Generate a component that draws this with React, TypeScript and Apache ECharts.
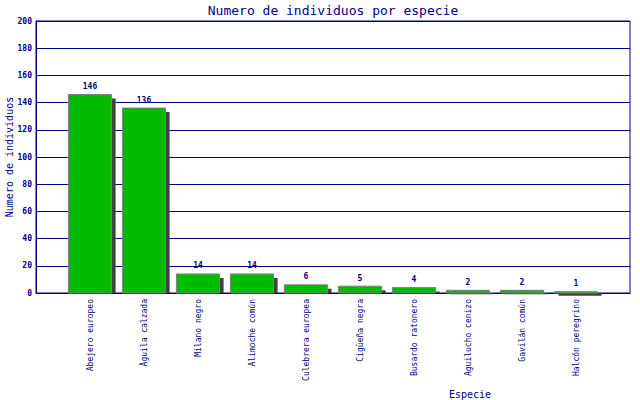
import React, { useEffect, useRef } from "react";
import * as echarts from "echarts";

const categories = [
  "Abejero europeo",
  "Águila calzada",
  "Milano negro",
  "Alimoche común",
  "Culebrera europea",
  "Cigüeña negra",
  "Busardo ratonero",
  "Aguilucho cenizo",
  "Gavilán común",
  "Halcón peregrino",
];
const values = [146, 136, 14, 14, 6, 5, 4, 2, 2, 1];
const yTicks = { min: 0, max: 200, interval: 20 };

const NAVY = "#000080";
const MONO = "'DejaVu Sans Mono', monospace";

export default function App() {
  const ref = useRef<HTMLDivElement>(null);
  useEffect(() => {
    if (!ref.current) return;
    const chart = echarts.init(ref.current, null, { renderer: "svg" });
    const axisCats = ["", ...categories, ""];
    const data = values.map((v, i) => [i + 1, v]);
    chart.setOption({
      animation: false,
      backgroundColor: "#ffffff",
      grid: {
        left: 36,
        right: 10,
        top: 21,
        bottom: 107,
        outerBoundsMode: "none",
        containLabel: false,
        show: true,
        borderColor: NAVY,
        borderWidth: 1,
        backgroundColor: "transparent",
      },
      xAxis: {
        type: "category",
        data: axisCats,
        boundaryGap: false,
        axisLine: { lineStyle: { color: NAVY } },
        axisTick: { show: false },
        axisLabel: {
          interval: 0,
          rotate: 90,
          margin: 6,
          color: NAVY,
          fontFamily: MONO,
          fontSize: 8,
        },
      },
      yAxis: {
        type: "value",
        min: yTicks.min,
        max: yTicks.max,
        interval: yTicks.interval,
        axisLine: { show: true, lineStyle: { color: NAVY } },
        axisTick: { show: false },
        axisLabel: {
          margin: 4,
          color: NAVY,
          fontFamily: MONO,
          fontSize: 8,
          fontWeight: "bold",
        },
        splitLine: { lineStyle: { color: NAVY, width: 1 } },
      },
      graphic: [
        {
          type: "text",
          x: 333,
          y: 10,
          style: {
            text: "Numero de individuos por especie",
            fill: NAVY,
            font: `13px ${MONO}`,
            textAlign: "center",
            textVerticalAlign: "middle",
          },
        },
        {
          type: "text",
          x: 9,
          y: 157,
          rotation: Math.PI / 2,
          style: {
            text: "Numero de individuos",
            fill: NAVY,
            font: `10px ${MONO}`,
            textAlign: "center",
            textVerticalAlign: "middle",
          },
        },
        {
          type: "text",
          x: 470,
          y: 394,
          style: {
            text: "Especie",
            fill: NAVY,
            font: `10px ${MONO}`,
            textAlign: "center",
            textVerticalAlign: "middle",
          },
        },
      ],
      series: [
        {
          type: "custom",
          clip: false,
          encode: { x: 0, y: 1 },
          data,
          renderItem: (params: any, api: any) => {
            const idx = api.value(0);
            const v = api.value(1);
            const top = api.coord([idx, v]);
            const base = api.coord([idx, 0]);
            const band = api.size([1, 0])[0];
            const w = band * 0.8;
            const x = top[0] - w / 2;
            const h = base[1] - top[1];
            const sTop = Math.min(top[1] + 4, base[1]);
            const sBot = Math.max(top[1] + 4, base[1]);
            return {
              type: "group",
              children: [
                {
                  type: "rect",
                  shape: { x: x + 4, y: sTop, width: w, height: Math.max(sBot - sTop, 0) },
                  style: { fill: "#404040" },
                },
                {
                  type: "rect",
                  shape: { x, y: top[1], width: w, height: h },
                  style: { fill: "#00bb00", stroke: "#808080", lineWidth: 1 },
                },
                {
                  type: "text",
                  x: top[0],
                  y: top[1] - 8,
                  style: {
                    text: String(v),
                    fill: NAVY,
                    font: `bold 8px ${MONO}`,
                    textAlign: "center",
                    textVerticalAlign: "middle",
                  },
                },
              ],
            };
          },
        },
      ],
    });
    return () => chart.dispose();
  }, []);
  return (
    <div
      ref={ref}
      style={{ position: "fixed", left: 0, top: 0, width: 640, height: 400, background: "#fff" }}
    />
  );
}
